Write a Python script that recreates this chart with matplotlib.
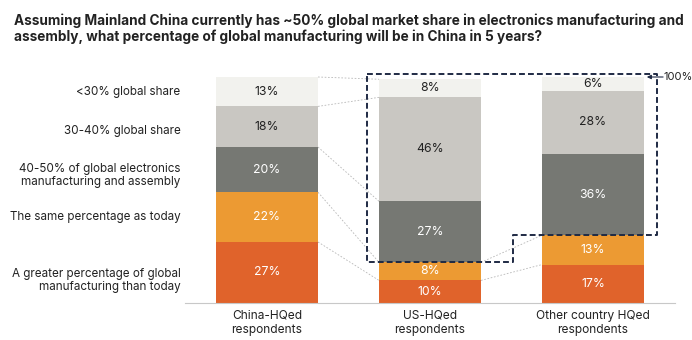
import numpy as np
import matplotlib.pyplot as plt

plt.rcParams["font.family"] = ["Inter", "DejaVu Sans"]

groups = ["China-HQed\nrespondents", "US-HQed\nrespondents", "Other country HQed\nrespondents"]
answers = [
    "A greater percentage of global\nmanufacturing than today",
    "The same percentage as today",
    "40-50% of global electronics\nmanufacturing and assembly",
    "30-40% global share",
    "<30% global share",
]
# bottom-to-top stack order, one list per answer
greater = [27, 10, 17]
same = [22, 8, 13]
mid = [20, 27, 36]
low = [18, 46, 28]
lowest = [13, 8, 6]

colors = ["#e0632b", "#ec9a33", "#767873", "#c9c7c2", "#f2f2ee"]
text_colors = ["white", "white", "white", "#222222", "#222222"]
# small vertical nudges (points) for the answer labels
label_nudge = [-6, 0, -4, -3, 0]

title = ("Assuming Mainland China currently has ~50% global market share in electronics manufacturing and\n"
         "assembly, what percentage of global manufacturing will be in China in 5 years?")

W, H = 692, 340
fig = plt.figure(figsize=(W / 100, H / 100), dpi=100)
ax = fig.add_axes([185 / W, (H - 303) / H, 490 / W, (303 - 60) / H])

stack = np.array([greater, same, mid, low, lowest], dtype=float)
x = np.arange(len(groups))
width = 0.626
bottoms = np.zeros(len(groups))
tops = []
for vals, c, tc in zip(stack, colors, text_colors):
    ax.bar(x, vals, width, bottom=bottoms, color=c, edgecolor="none")
    for xi, b, v in zip(x, bottoms, vals):
        ax.text(xi, b + v / 2, f"{int(v)}%", ha="center", va="center",
                color=tc, fontsize=8.8)
    bottoms = bottoms + vals
    tops.append(bottoms.copy())
tops = np.array(tops)

# dashed connectors between matching segment boundaries of neighbouring bars
for i in range(len(groups) - 1):
    for level in range(len(answers)):
        if i == 1 and level >= 2:
            continue
        ax.plot([x[i] + width / 2, x[i + 1] - width / 2],
                [tops[level, i], tops[level, i + 1]],
                color="#b8b8b8", lw=0.6, ls=(0, (2, 2)), zorder=0)

# outline around the "less than today" responses for non-China groups
box_l, box_r = 0.613, 2.393
box_t = 101.3
us_cut = tops[1, 1]
oth_cut = tops[1, 2]
step_x = 1.509
bx = [box_l, box_r, box_r, step_x, step_x, box_l, box_l]
by = [box_t, box_t, oth_cut, oth_cut, us_cut, us_cut, box_t]
ax.plot(bx, by, color="#1f2a44", lw=1.4, ls=(0, (3, 1.6)), zorder=5, clip_on=False)
ax.annotate("", xy=(2.33, 100), xytext=(2.43, 100),
            arrowprops=dict(arrowstyle="-|>", color="#1f2a44", lw=0.8,
                            mutation_scale=6, shrinkA=0, shrinkB=0),
            annotation_clip=False, zorder=6)
ax.text(2.435, 100, "100%", ha="left", va="center", fontsize=8, color="#222222")

# answer labels aligned with the China bar
for level, lab in enumerate(answers):
    yc = tops[level, 0] - stack[level, 0] / 2
    ax.annotate(lab, (-0.53, yc), xytext=(0, label_nudge[level]),
                textcoords="offset points", ha="right", va="center",
                fontsize=8.4, color="#222222", linespacing=1.15,
                annotation_clip=False)

ax.set_xlim(-0.503, 2.503)
ax.set_ylim(0, 100 * (303 - 60) / 226)
ax.set_xticks(x)
ax.set_xticklabels(groups, fontsize=8.6, color="#222222", linespacing=1.2)
ax.tick_params(axis="x", length=0, pad=5)
ax.set_yticks([])
for s in ["top", "right", "left"]:
    ax.spines[s].set_visible(False)
ax.spines["bottom"].set_color("#c8c8c8")
ax.spines["bottom"].set_linewidth(0.8)

fig.text(14 / W, 1 - 13 / H, title, ha="left", va="top", fontsize=9.8,
         fontweight="bold", color="#222222", linespacing=1.15)

fig.savefig("out.png", dpi=100)
